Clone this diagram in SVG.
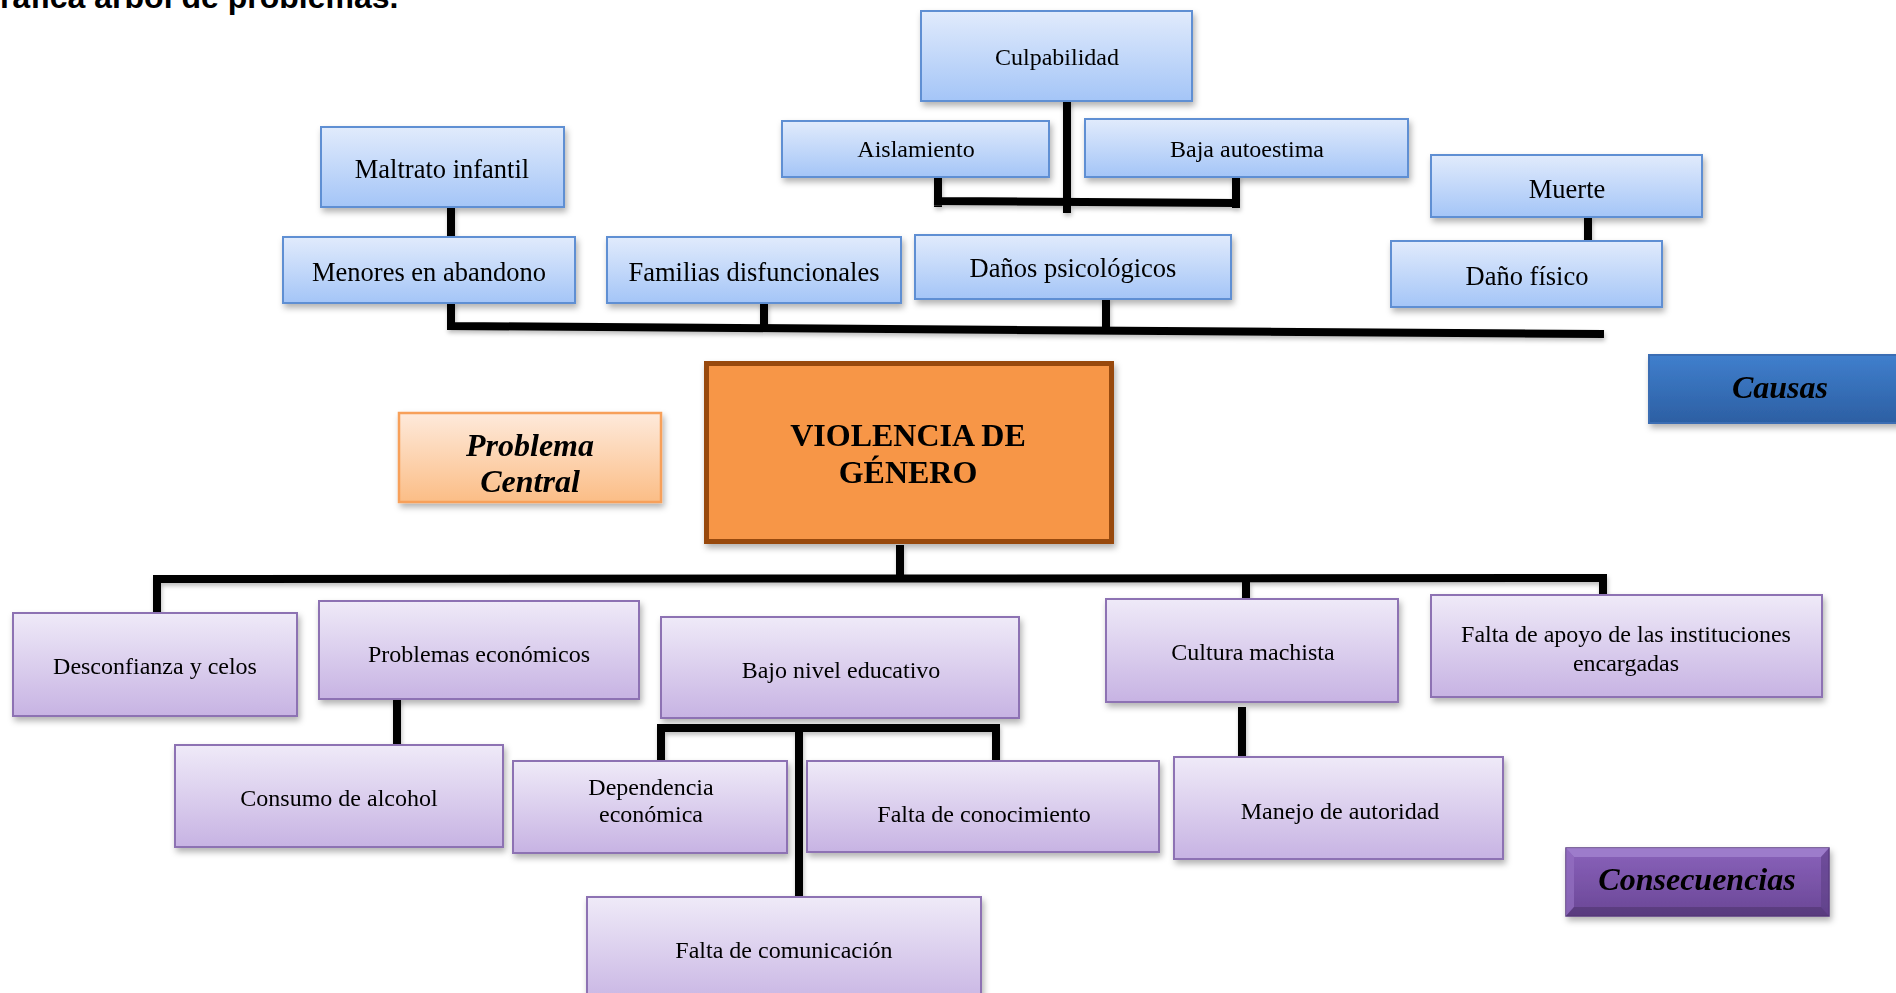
<svg xmlns="http://www.w3.org/2000/svg" width="1896" height="993" viewBox="0 0 1896 993">
<defs>
<linearGradient id="gBlue" x1="0" y1="0" x2="0" y2="1"><stop offset="0" stop-color="#e1ebfc"/><stop offset="1" stop-color="#a4c5f7"/></linearGradient>
<linearGradient id="gPurple" x1="0" y1="0" x2="0" y2="1"><stop offset="0" stop-color="#efeaf8"/><stop offset="1" stop-color="#c7b3e3"/></linearGradient>
<linearGradient id="gOrange" x1="0" y1="0" x2="0" y2="1"><stop offset="0" stop-color="#feeadb"/><stop offset="1" stop-color="#fbbd86"/></linearGradient>
<linearGradient id="gCausas" x1="0" y1="0" x2="0" y2="1"><stop offset="0" stop-color="#407fcd"/><stop offset="1" stop-color="#2c5fa3"/></linearGradient>
<linearGradient id="gCons" x1="0" y1="0" x2="0" y2="1"><stop offset="0" stop-color="#8a62bb"/><stop offset="1" stop-color="#6a4796"/></linearGradient>
<filter id="sh" x="-10%" y="-10%" width="130%" height="140%"><feDropShadow dx="2" dy="4" stdDeviation="3" flood-color="#000" flood-opacity="0.3"/></filter>
<filter id="lsh" x="-10%" y="-10%" width="130%" height="140%"><feDropShadow dx="1" dy="3" stdDeviation="2" flood-color="#000" flood-opacity="0.25"/></filter>
<style>
.blue{fill:url(#gBlue);stroke:#5f8fd3;stroke-width:2}
.purple{fill:url(#gPurple);stroke:#8d72b3;stroke-width:2}
.t{font-family:"Liberation Serif","Times New Roman",serif;fill:#000;text-anchor:middle}
.s24{font-size:24px}
.s26{font-size:26.5px}
.s32{font-size:32px}
.bi{font-weight:bold;font-style:italic}
.b{font-weight:bold}
.ln{fill:none;stroke:#000;stroke-width:8;stroke-linecap:square;stroke-linejoin:miter}
</style>
</defs>
<rect width="1896" height="993" fill="#fff"/>
<text x="0" y="8" font-family="Liberation Sans, Arial, sans-serif" font-weight="bold" font-size="32px" fill="#000">ráfica árbol de problemas.</text>

<g id="connectors" filter="url(#lsh)">
<path class="ln" d="M1067 104 V209"/>
<path class="ln" d="M938 180 V203 M938 201 L1236 203 M1236 180 V204"/>
<path class="ln" d="M451 210 V237"/>
<path class="ln" d="M1588 220 V240"/>
<path class="ln" d="M451 306 V326 L1600 334" stroke-width="9"/>
<path class="ln" d="M764 306 V327"/>
<path class="ln" d="M1106 302 V329"/>
<path class="ln" d="M900 549 V578"/>
<path class="ln" d="M157 610 V579 L1603 578 V592" stroke-width="9"/>
<path class="ln" d="M1246 580 V596"/>
<path class="ln" d="M397 702 V746"/>
<path class="ln" d="M661 758 V728 H996 V756"/>
<path class="ln" d="M799 728 V900"/>
<path class="ln" d="M1242 711 V754"/>
</g>

<g id="n-culpabilidad" filter="url(#sh)"><rect class="blue" x="921" y="11" width="271" height="90"/><text class="t s24" x="1057" y="65">Culpabilidad</text></g>
<g id="n-aislamiento" filter="url(#sh)"><rect class="blue" x="782" y="121" width="267" height="56"/><text class="t s24" x="916" y="157">Aislamiento</text></g>
<g id="n-baja" filter="url(#sh)"><rect class="blue" x="1085" y="119" width="323" height="58"/><text class="t s24" x="1247" y="157">Baja autoestima</text></g>
<g id="n-maltrato" filter="url(#sh)"><rect class="blue" x="321" y="127" width="243" height="80"/><text class="t s26" x="442" y="178">Maltrato infantil</text></g>
<g id="n-menores" filter="url(#sh)"><rect class="blue" x="283" y="237" width="292" height="66"/><text class="t s26" x="429" y="281">Menores en abandono</text></g>
<g id="n-familias" filter="url(#sh)"><rect class="blue" x="607" y="237" width="294" height="66"/><text class="t s26" x="754" y="281">Familias disfuncionales</text></g>
<g id="n-danos" filter="url(#sh)"><rect class="blue" x="915" y="235" width="316" height="64"/><text class="t s26" x="1073" y="277">Daños psicológicos</text></g>
<g id="n-muerte" filter="url(#sh)"><rect class="blue" x="1431" y="155" width="271" height="62"/><text class="t s26" x="1567" y="198">Muerte</text></g>
<g id="n-danofisico" filter="url(#sh)"><rect class="blue" x="1391" y="241" width="271" height="66"/><text class="t s26" x="1527" y="285">Daño físico</text></g>

<g id="n-causas" filter="url(#sh)"><rect x="1649" y="355" width="260" height="68" fill="url(#gCausas)" stroke="#3a6db3" stroke-width="2"/><text class="t s32 bi" x="1780" y="398">Causas</text></g>

<g id="n-problema" filter="url(#sh)"><rect x="399" y="413" width="262" height="89" fill="url(#gOrange)" stroke="#f7a05a" stroke-width="2.5"/><text class="t s32 bi" x="530" y="456">Problema</text><text class="t s32 bi" x="530" y="492">Central</text></g>
<g id="n-violencia" filter="url(#sh)"><rect x="706.5" y="363.5" width="405" height="178" fill="#f79646" stroke="#984807" stroke-width="5"/><text class="t s32 b" x="908" y="446">VIOLENCIA DE</text><text class="t s32 b" x="908" y="483">GÉNERO</text></g>

<g id="n-desconfianza" filter="url(#sh)"><rect class="purple" x="13" y="613" width="284" height="103"/><text class="t s24" x="155" y="674">Desconfianza y celos</text></g>
<g id="n-problemas" filter="url(#sh)"><rect class="purple" x="319" y="601" width="320" height="98"/><text class="t s24" x="479" y="662">Problemas económicos</text></g>
<g id="n-bajo" filter="url(#sh)"><rect class="purple" x="661" y="617" width="358" height="101"/><text class="t s24" x="841" y="678">Bajo nivel educativo</text></g>
<g id="n-cultura" filter="url(#sh)"><rect class="purple" x="1106" y="599" width="292" height="103"/><text class="t s24" x="1253" y="660">Cultura machista</text></g>
<g id="n-faltaapoyo" filter="url(#sh)"><rect class="purple" x="1431" y="595" width="391" height="102"/><text class="t s24" x="1626" y="642">Falta de apoyo de las instituciones</text><text class="t s24" x="1626" y="671">encargadas</text></g>
<g id="n-consumo" filter="url(#sh)"><rect class="purple" x="175" y="745" width="328" height="102"/><text class="t s24" x="339" y="806">Consumo de alcohol</text></g>
<g id="n-dependencia" filter="url(#sh)"><rect class="purple" x="513" y="761" width="274" height="92"/><text class="t s24" x="651" y="795">Dependencia</text><text class="t s24" x="651" y="822">económica</text></g>
<g id="n-conocimiento" filter="url(#sh)"><rect class="purple" x="807" y="761" width="352" height="91"/><text class="t s24" x="984" y="822">Falta de conocimiento</text></g>
<g id="n-manejo" filter="url(#sh)"><rect class="purple" x="1174" y="757" width="329" height="102"/><text class="t s24" x="1340" y="819">Manejo de autoridad</text></g>
<g id="n-comunicacion" filter="url(#sh)"><rect class="purple" x="587" y="897" width="394" height="110"/><text class="t s24" x="784" y="958">Falta de comunicación</text></g>

<g id="n-consecuencias" filter="url(#sh)">
<rect x="1566" y="848" width="263" height="68" fill="url(#gCons)" stroke="#5a3a80" stroke-width="1.5"/>
<polygon points="1566,848 1829,848 1821,857 1574,857" fill="#a283cf" opacity="0.8"/>
<polygon points="1566,848 1574,857 1574,907 1566,916" fill="#9471c2" opacity="0.7"/>
<polygon points="1829,848 1821,857 1821,907 1829,916" fill="#5e3f86" opacity="0.6"/>
<polygon points="1566,916 1574,907 1821,907 1829,916" fill="#4f336f" opacity="0.6"/>
<text class="t s32 bi" x="1697" y="890">Consecuencias</text>
</g>
</svg>
